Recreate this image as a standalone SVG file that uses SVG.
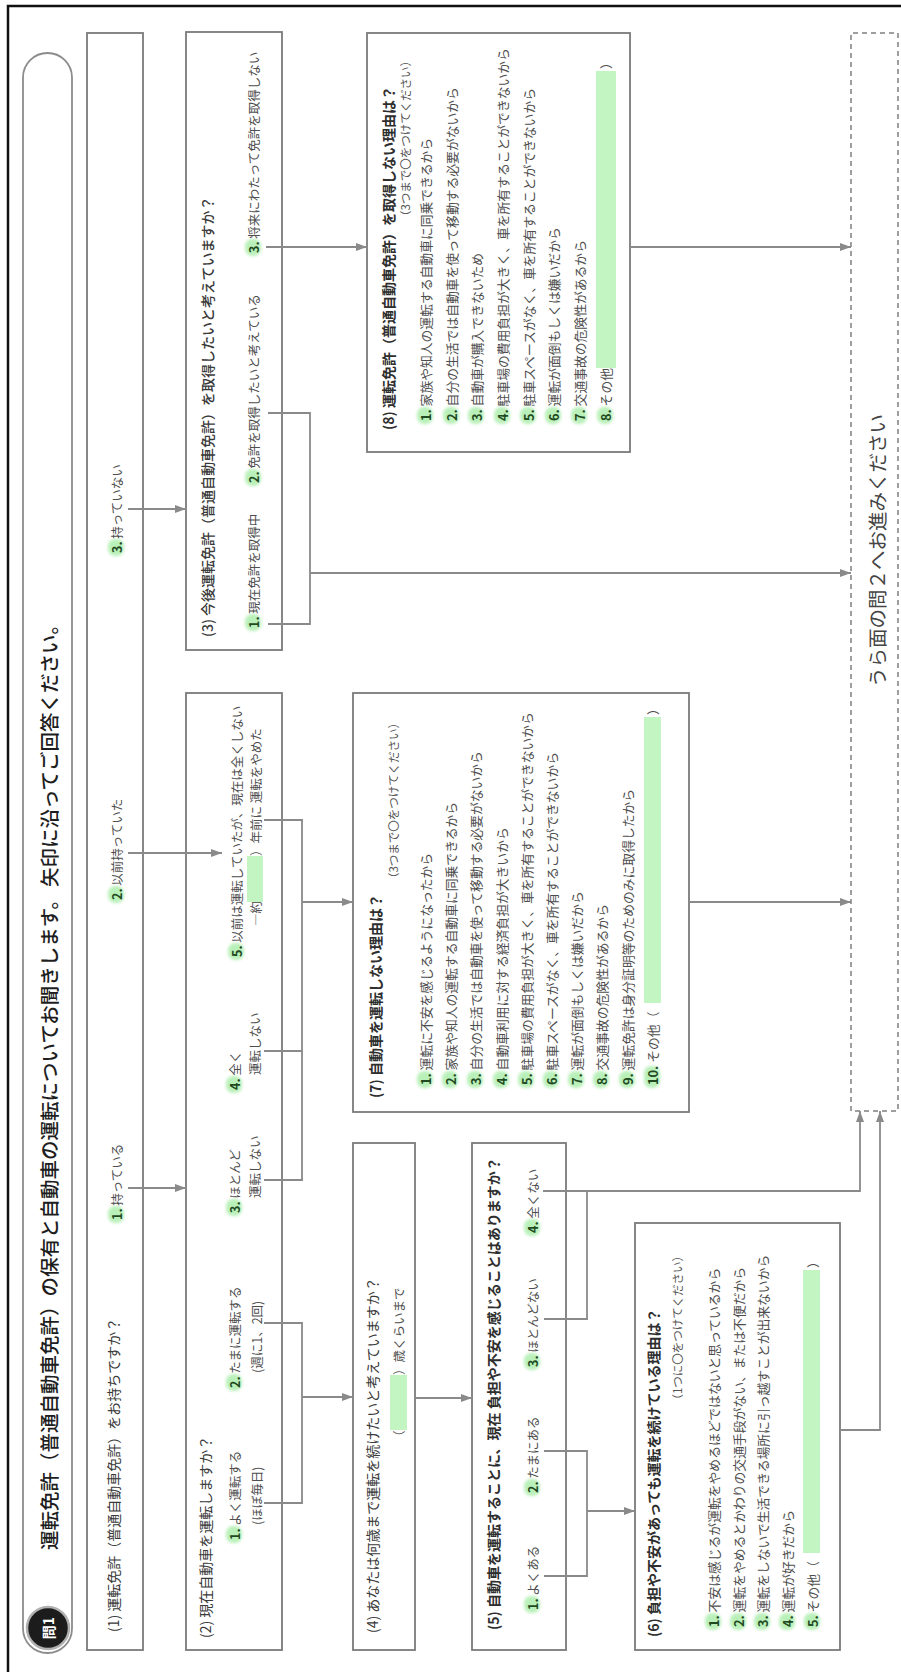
<svg xmlns="http://www.w3.org/2000/svg" width="901" height="1672" viewBox="0 0 901 1672">
<style>
text{font-family:"Noto Sans CJK JP","Noto Sans",sans-serif;dominant-baseline:central}
.box{fill:#fff;stroke:#7a7a7a;stroke-width:1.8}
.dash{fill:#fff;stroke:#808080;stroke-width:1.5;stroke-dasharray:5 4}
.q{font-size:14px;fill:#3a3a3a}
.qb{font-weight:700;fill:#2e2e2e}
.sub{font-size:11.5px;fill:#555}
.o{font-size:12.5px;fill:#4e4e4e}
.it{font-size:12.8px;fill:#4e4e4e}
.n{font-weight:700;fill:#1f4a1f}
.g{fill:#c3f5c3}
.glow{fill:#b9f0b9;filter:url(#blur)}
.ln{fill:none;stroke:#8a8a8a;stroke-width:1.8}
.ar{fill:none;stroke:#8a8a8a;stroke-width:1.8;marker-end:url(#ah)}
</style>
<defs>
<filter id="blur" x="-50%" y="-50%" width="200%" height="200%"><feGaussianBlur stdDeviation="1.6"/></filter>
<marker id="ah" markerUnits="userSpaceOnUse" markerWidth="12" markerHeight="10" refX="11" refY="4" orient="auto"><path d="M0,0 L11,4 L0,8 z" fill="#8a8a8a"/></marker>
</defs>
<rect width="901" height="1672" fill="#fff"/>
<path d="M8,1672 V6 H901" fill="none" stroke="#111" stroke-width="2.5"/>
<g transform="translate(0,1672) rotate(-90)">
<g id="title">
<rect x="19" y="23" width="1600" height="49" rx="24.5" fill="#fff" stroke="#8c8c8c" stroke-width="1.8"/>
<circle cx="44" cy="48" r="21" fill="#1c1c1c" stroke="#b0b0b0" stroke-width="2.5"/>
<text x="44" y="48" text-anchor="middle" font-size="14" font-weight="700" fill="#fff">問1</text>
<text x="122" y="48" font-size="19.5" font-weight="500" fill="#1e1e1e">運転免許（普通自動車免許）の保有と自動車の運転についてお聞きします。</text>
<text x="785" y="48" font-size="19.5" font-weight="500" fill="#1e1e1e">矢印に沿ってご回答ください。</text>
</g>
<g id="q1">
<rect class="box" x="22" y="87" width="1617" height="56"/>
<text class="q" x="40" y="113">(1) 運転免許（普通自動車免許）をお持ちですか？</text>
<rect class="glow" x="449" y="108" width="17" height="16" rx="7"/>
<text class="o" x="452" y="116"><tspan class="n">1.</tspan> 持っている</text>
<rect class="glow" x="769" y="108" width="17" height="16" rx="7"/>
<text class="o" x="772" y="116"><tspan class="n">2.</tspan> 以前持っていた</text>
<rect class="glow" x="1116" y="108" width="17" height="16" rx="7"/>
<text class="o" x="1119" y="116"><tspan class="n">3.</tspan> 持っていない</text>
</g>
<g id="q2">
<rect class="box" x="22" y="186" width="957" height="96"/>
<text class="q" x="34" y="205">(2) 現在自動車を運転しますか？</text>
<rect class="glow" x="129" y="226" width="17" height="16" rx="7"/>
<text class="o" x="132" y="234"><tspan class="n">1.</tspan> よく運転する</text>
<text class="o" x="147" y="256">(ほぼ毎日)</text>
<rect class="glow" x="281" y="226" width="17" height="16" rx="7"/>
<text class="o" x="284" y="234"><tspan class="n">2.</tspan> たまに運転する</text>
<text class="o" x="299" y="256">(週に1、2回)</text>
<rect class="glow" x="456" y="226" width="17" height="16" rx="7"/>
<text class="o" x="459" y="234"><tspan class="n">3.</tspan> ほとんど</text>
<text class="o" x="474" y="254">運転しない</text>
<rect class="glow" x="579" y="226" width="17" height="16" rx="7"/>
<text class="o" x="582" y="234"><tspan class="n">4.</tspan> 全く</text>
<text class="o" x="597" y="254">運転しない</text>
<rect class="glow" x="712" y="228" width="17" height="16" rx="7"/>
<text class="o" x="715" y="236"><tspan class="n">5.</tspan> 以前は運転していたが、現在は全くしない</text>
<text class="o" x="746" y="255">―約（</text>
<rect class="g" x="770" y="247" width="46" height="16"/>
<text class="o" x="816" y="255">）年前に 運転をやめた</text>
</g>
<g id="q3">
<rect class="box" x="1022" y="186" width="618" height="96"/>
<text class="q" x="1035" y="207" font-weight="500">(3) 今後運転免許（普通自動車免許）を取得したいと考えていますか？</text>
<rect class="glow" x="1041" y="245" width="17" height="16" rx="7"/>
<text class="o" x="1044" y="253"><tspan class="n">1.</tspan> 現在免許を取得中</text>
<rect class="glow" x="1186" y="245" width="17" height="16" rx="7"/>
<text class="o" x="1189" y="253"><tspan class="n">2.</tspan> 免許を取得したいと考えている</text>
<rect class="glow" x="1416" y="245" width="17" height="16" rx="7"/>
<text class="o" x="1419" y="253"><tspan class="n">3.</tspan> 将来にわたって免許を取得しない</text>
</g>
<g id="q4">
<rect class="box" x="22" y="353" width="507" height="62"/>
<text class="q" x="39" y="372">(4) あなたは何歳まで運転を続けたいと考えていますか？</text>
<text class="o" x="229" y="398">（</text>
<rect class="g" x="242" y="390" width="55" height="17"/>
<text class="o" x="297" y="398">）歳くらいまで</text>
</g>
<g id="q5">
<rect class="box" x="22" y="472" width="507" height="94"/>
<text class="q qb" x="42" y="493">(5) 自動車を運転することに、現在 負担や不安を感じることはありますか？</text>
<rect class="glow" x="59" y="524" width="17" height="16" rx="7"/>
<text class="o" x="62" y="532"><tspan class="n">1.</tspan> よくある</text>
<rect class="glow" x="176" y="524" width="17" height="16" rx="7"/>
<text class="o" x="179" y="532"><tspan class="n">2.</tspan> たまにある</text>
<rect class="glow" x="302" y="524" width="17" height="16" rx="7"/>
<text class="o" x="305" y="532"><tspan class="n">3.</tspan> ほとんどない</text>
<rect class="glow" x="436" y="524" width="17" height="16" rx="7"/>
<text class="o" x="439" y="532"><tspan class="n">4.</tspan> 全くない</text>
</g>
<g id="q6">
<rect class="box" x="22" y="635" width="427" height="205"/>
<text class="q qb" x="35" y="653">(6) 負担や不安があっても運転を続けている理由は？</text>
<text class="sub" x="422" y="677" text-anchor="end">（1つに〇をつけてください）</text>
<rect class="glow" x="42" y="705" width="17" height="16" rx="7"/>
<text class="it" x="45" y="713"><tspan class="n">1.</tspan> 不安は感じるが運転をやめるほどではないと思っているから</text>
<rect class="glow" x="42" y="730" width="17" height="16" rx="7"/>
<text class="it" x="45" y="738"><tspan class="n">2.</tspan> 運転をやめるとかわりの交通手段がない、または不便だから</text>
<rect class="glow" x="42" y="754" width="17" height="16" rx="7"/>
<text class="it" x="45" y="762"><tspan class="n">3.</tspan> 運転をしないで生活できる場所に引っ越すことが出来ないから</text>
<rect class="glow" x="42" y="779" width="17" height="16" rx="7"/>
<text class="it" x="45" y="787"><tspan class="n">4.</tspan> 運転が好きだから</text>
<rect class="glow" x="42" y="804" width="17" height="16" rx="7"/>
<text class="it" x="45" y="812"><tspan class="n">5.</tspan> その他（</text>
<rect class="g" x="119" y="803" width="283" height="17"/>
<text class="it" x="404" y="812">）</text>
</g>
<g id="q7">
<rect class="box" x="560" y="353" width="419" height="336"/>
<text class="q qb" x="574" y="375">(7) 自動車を運転しない理由は？</text>
<text class="sub" x="955" y="393" text-anchor="end">（3つまで〇をつけてください）</text>
<rect class="glow" x="584" y="417" width="17" height="16" rx="7"/>
<text class="it" x="587" y="425"><tspan class="n">1.</tspan> 運転に不安を感じるようになったから</text>
<rect class="glow" x="584" y="442" width="17" height="16" rx="7"/>
<text class="it" x="587" y="450"><tspan class="n">2.</tspan> 家族や知人の運転する自動車に同乗できるから</text>
<rect class="glow" x="584" y="467" width="17" height="16" rx="7"/>
<text class="it" x="587" y="475"><tspan class="n">3.</tspan> 自分の生活では自動車を使って移動する必要がないから</text>
<rect class="glow" x="584" y="493" width="17" height="16" rx="7"/>
<text class="it" x="587" y="501"><tspan class="n">4.</tspan> 自動車利用に対する経済負担が大きいから</text>
<rect class="glow" x="584" y="518" width="17" height="16" rx="7"/>
<text class="it" x="587" y="526"><tspan class="n">5.</tspan> 駐車場の費用負担が大きく、車を所有することができないから</text>
<rect class="glow" x="584" y="543" width="17" height="16" rx="7"/>
<text class="it" x="587" y="551"><tspan class="n">6.</tspan> 駐車スペースがなく、車を所有することができないから</text>
<rect class="glow" x="584" y="568" width="17" height="16" rx="7"/>
<text class="it" x="587" y="576"><tspan class="n">7.</tspan> 運転が面倒もしくは嫌いだから</text>
<rect class="glow" x="584" y="593" width="17" height="16" rx="7"/>
<text class="it" x="587" y="601"><tspan class="n">8.</tspan> 交通事故の危険性があるから</text>
<rect class="glow" x="584" y="619" width="17" height="16" rx="7"/>
<text class="it" x="587" y="627"><tspan class="n">9.</tspan> 運転免許は身分証明等のためのみに取得したから</text>
<rect class="glow" x="584" y="644" width="22" height="16" rx="7"/>
<text class="it" x="587" y="652"><tspan class="n">10.</tspan> その他（</text>
<rect class="g" x="669" y="644" width="286" height="17"/>
<text class="it" x="957" y="652">）</text>
</g>
<g id="q8">
<rect class="box" x="1220" y="367" width="419" height="263"/>
<text class="q qb" x="1242" y="388">(8) 運転免許（普通自動車免許）を取得しない理由は？</text>
<text class="sub" x="1617" y="405" text-anchor="end">（3つまで〇をつけてください）</text>
<rect class="glow" x="1248" y="417" width="17" height="16" rx="7"/>
<text class="it" x="1251" y="425"><tspan class="n">1.</tspan> 家族や知人の運転する自動車に同乗できるから</text>
<rect class="glow" x="1248" y="443" width="17" height="16" rx="7"/>
<text class="it" x="1251" y="451"><tspan class="n">2.</tspan> 自分の生活では自動車を使って移動する必要がないから</text>
<rect class="glow" x="1248" y="468" width="17" height="16" rx="7"/>
<text class="it" x="1251" y="476"><tspan class="n">3.</tspan> 自動車が購入できないため</text>
<rect class="glow" x="1248" y="494" width="17" height="16" rx="7"/>
<text class="it" x="1251" y="502"><tspan class="n">4.</tspan> 駐車場の費用負担が大きく、車を所有することができないから</text>
<rect class="glow" x="1248" y="520" width="17" height="16" rx="7"/>
<text class="it" x="1251" y="528"><tspan class="n">5.</tspan> 駐車スペースがなく、車を所有することができないから</text>
<rect class="glow" x="1248" y="545" width="17" height="16" rx="7"/>
<text class="it" x="1251" y="553"><tspan class="n">6.</tspan> 運転が面倒もしくは嫌いだから</text>
<rect class="glow" x="1248" y="571" width="17" height="16" rx="7"/>
<text class="it" x="1251" y="579"><tspan class="n">7.</tspan> 交通事故の危険性があるから</text>
<rect class="glow" x="1248" y="597" width="17" height="16" rx="7"/>
<text class="it" x="1251" y="605"><tspan class="n">8.</tspan> その他（</text>
<rect class="g" x="1304" y="596" width="297" height="20"/>
<text class="it" x="1603" y="605">）</text>
</g>
<g id="next">
<rect class="dash" x="561" y="851" width="1078" height="47"/>
<text x="985" y="876" font-size="19.5" fill="#444">うら面の問２へお進みください</text>
</g>
<g id="connectors">
<path class="ar" d="M484,128 V186"/>
<path class="ar" d="M819,128 V222"/>
<path class="ar" d="M1163,128 V186"/>
<path class="ln" d="M169,264 V302 H349 V264"/>
<path class="ar" d="M275,302 V353"/>
<path class="ln" d="M492,264 V302 H852 V264 M621,264 V302"/>
<path class="ar" d="M770,302 V353"/>
<path class="ln" d="M1048,268 V310 H1259 V268"/>
<path class="ar" d="M1099,310 V851"/>
<path class="ar" d="M1425,266 V367"/>
<path class="ar" d="M274,415 V472"/>
<path class="ln" d="M96,544 V587 H221 V544"/>
<path class="ar" d="M161,587 V635"/>
<path class="ln" d="M353,544 V587 H481"/>
<path class="ar" d="M481,543 V860 H561"/>
<path class="ar" d="M242,840 V880 H561"/>
<path class="ar" d="M770,689 V851"/>
<path class="ar" d="M1425,630 V851"/>
</g>
</g>
</svg>
